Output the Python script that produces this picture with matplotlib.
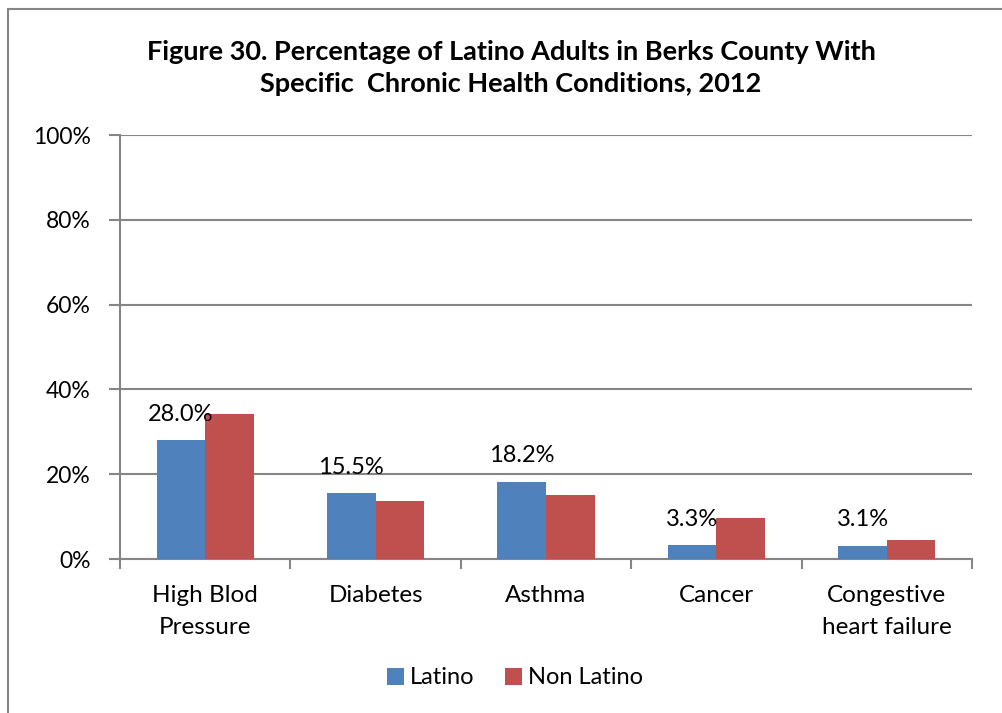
import matplotlib.pyplot as plt
from matplotlib.patches import Rectangle
import numpy as np

categories = ['High Blod\nPressure', 'Diabetes', 'Asthma', 'Cancer', 'Congestive\nheart failure']
latino = [28.0, 15.5, 18.2, 3.3, 3.1]
non_latino = [34.2, 13.6, 15.1, 9.7, 4.5]
yticks = [0, 20, 40, 60, 80, 100]

title = 'Figure 30. Percentage of Latino Adults in Berks County With\nSpecific  Chronic Health Conditions, 2012'

plt.rcParams['font.family'] = ['Lato', 'DejaVu Sans']

W, H = 1003, 713
fig = plt.figure(figsize=(W / 100, H / 100), dpi=100)
ax = fig.add_axes([120 / W, (H - 559) / H, 852 / W, 424 / H])

grey = '#868686'
x = np.arange(len(categories))
bw = 0.285
ax.bar(x - bw / 2, latino, bw, color='#4F81BD', label='Latino', zorder=3)
ax.bar(x + bw / 2, non_latino, bw, color='#C0504D', label='Non Latino', zorder=3)

for xi, v in zip(x, latino):
    ax.annotate(f'{v:.1f}%', (xi - bw / 2, v), xytext=(0, 14), textcoords='offset points',
                ha='center', va='baseline', fontsize=17, zorder=4)

ax.set_xlim(-0.5, len(categories) - 0.5)
ax.set_ylim(0, 100)
ax.set_yticks(yticks)
ax.set_yticklabels([f'{t}%' for t in yticks], fontsize=16.5)
ax.set_xticks(x)
ax.set_xticklabels(categories, fontsize=17.5, linespacing=1.65)
ax.set_xticks(np.arange(len(categories) + 1) - 0.5, minor=True)
ax.tick_params(axis='x', which='major', length=0, pad=19)
ax.tick_params(axis='x', which='minor', length=7, width=1.5, color=grey)
ax.tick_params(axis='y', length=8, width=1.5, color=grey, pad=13)
ax.yaxis.grid(True, color=grey, lw=1.5, zorder=0)

for s in ['top', 'right']:
    ax.spines[s].set_visible(False)
for s in ['left', 'bottom']:
    ax.spines[s].set_color(grey)
    ax.spines[s].set_linewidth(1.5)

fig.text(511 / W, 1 - 68 / H, title, ha='center', va='center', fontsize=19.5,
         fontweight='bold', linespacing=1.4)

ax.legend(loc='center', bbox_to_anchor=(515 / W, 1 - 678 / H), bbox_transform=fig.transFigure,
          ncol=2, frameon=False, fontsize=17, handlelength=0.7, handleheight=0.7,
          handletextpad=0.25, columnspacing=1.3)

# chart frame
fig.patches.append(Rectangle((8 / W, -0.1), 1.2, 1.1 - 9 / H, transform=fig.transFigure,
                             fill=False, edgecolor=grey, lw=1.5))

fig.savefig('out.png', dpi=100)
